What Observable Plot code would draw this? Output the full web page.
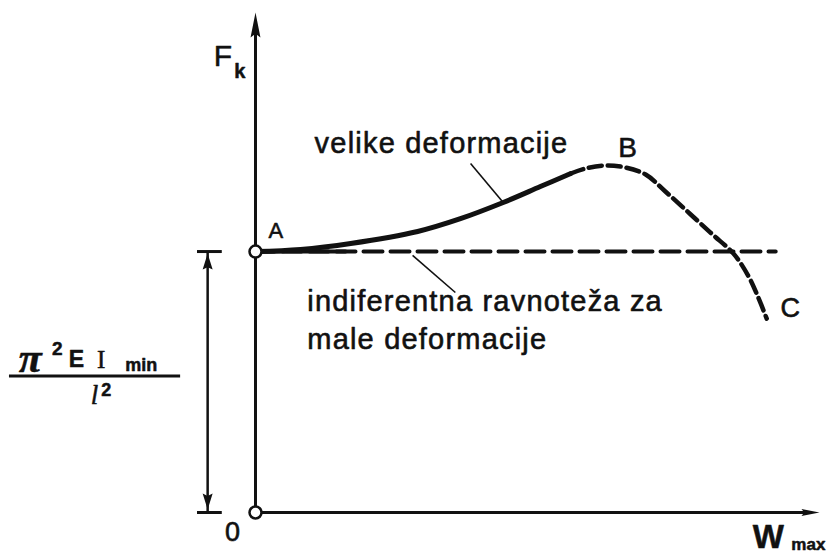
<!DOCTYPE html>
<html>
<head>
<meta charset="utf-8">
<script src="https://cdn.jsdelivr.net/npm/d3@7"></script>
<script src="https://cdn.jsdelivr.net/npm/@observablehq/plot@0.6"></script>
<style>
  html, body { margin: 0; padding: 0; background: #fff; }
  #chart svg { display: block; }
</style>
</head>
<body>
<div id="chart"></div>
<script>
// Post-buckling of a column: load Fk versus maximum deflection Wmax.
// F is measured in units of the Euler load π²EI/l², so the bifurcation point A sits at F = 1.

const eulerLoad = 1;          // A: indifferent equilibrium level
const wAxisEnd = 1;           // tip of the Wmax axis
const fAxisEnd = 1.916;       // tip of the Fk axis

// large-deflection branch A → B → C
const wLarge = [0, 0.080, 0.169, 0.288, 0.364, 0.440, 0.506, 0.560, 0.586, 0.622, 0.657, 0.693, 0.728, 0.773, 0.812, 0.849, 0.876, 0.893, 0.908];
const fLarge = [1.000, 1.008, 1.031, 1.077, 1.126, 1.188, 1.249, 1.299, 1.318, 1.330, 1.322, 1.295, 1.230, 1.142, 1.065, 0.992, 0.904, 0.824, 0.743];
const solidUntil = 0.560;     // drawn solid up to here, dashed beyond

// small-deflection (linear) solution: horizontal at the Euler load
const wSmall = [0, 0.924];
const wSmallSolid = 0.16;     // where the two branches still overlap near A

// dimension line for the Euler load, left of the Fk axis
const wDimension = -0.085;

// annotation texts
const labelText = ["A", "B", "C", "velike deformacije", "indiferentna ravnoteža za", "male deformacije", "0"];
const labelW    = [0.036, 0.661, 0.950, 0.105, 0.092, 0.092, -0.041];
const labelF    = [1.077, 1.398, 0.782, 1.414, 0.807, 0.661, -0.077];
const labelSize = [22, 28, 27, 29, 29, 29, 27];
const labelAnchor = ["middle", "middle", "middle", "start", "start", "start", "middle"];

// leader lines from the texts to the curves
const leaderW1 = [0.382, 0.279];
const leaderF1 = [1.337, 0.985];
const leaderW2 = [0.440, 0.355];
const leaderF2 = [1.188, 0.843];

// axis titles and the Euler-load formula, drawn as pieces with sub/superscripts
const mathText = ["F", "k", "W", "max", "π", "2", "E", "I", "min", "l", "2"];
const mathW    = [-0.058, -0.028, 0.911, 0.982, -0.400, -0.352, -0.318, -0.274, -0.203, -0.286, -0.265];
const mathF    = [1.747, 1.690, -0.096, -0.123, 0.590, 0.625, 0.585, 0.585, 0.565, 0.448, 0.470];
const mathSize = [30, 20, 33, 17, 42, 19, 23, 25, 18, 27, 18];
const mathWeight = ["normal", "bold", "bold", "bold", "bold", "bold", "bold", "normal", "bold", "normal", "bold"];
const mathFace   = ["sans", "sans", "sans", "sans", "serif-italic", "sans", "sans", "serif", "sans", "serif-italic", "sans"];
const fractionW = [-0.437, -0.133];
const fractionF = 0.523;

const ink = "#111";
const font = "Liberation Sans, Arial, Helvetica, sans-serif";
const serif = "Liberation Serif, DejaVu Serif, serif";

const labels = labelText.map((t, i) => ({t, w: labelW[i], f: labelF[i], s: labelSize[i], a: labelAnchor[i]}));
const maths = mathText.map((t, i) => ({t, w: mathW[i], f: mathF[i], s: mathSize[i], b: mathWeight[i], face: mathFace[i]}));
const leaders = leaderW1.map((w1, i) => ({w1, f1: leaderF1[i], w2: leaderW2[i], f2: leaderF2[i]}));

const large = wLarge.map((w, i) => ({w, f: fLarge[i]}));
const largeSolid = large.filter(d => d.w <= solidUntil);
const largeDashed = large.filter(d => d.w >= solidUntil);
const small = wSmall.map(w => ({w, f: eulerLoad}));
const smallSolid = small.map(d => ({...d, w: Math.min(d.w, wSmallSolid)}));

// filled arrowheads, pointing up before rotation
function head(lengthRatio, widthRatio) {
  return {
    draw(ctx, size) {
      const r = Math.sqrt(size / Math.PI);
      ctx.moveTo(0, -lengthRatio * r);
      ctx.lineTo(widthRatio * r, lengthRatio * r);
      ctx.lineTo(0, lengthRatio * r * 0.7);
      ctx.lineTo(-widthRatio * r, lengthRatio * r);
      ctx.closePath();
    }
  };
}
const longHead = head(2, 0.8);
const shortHead = head(1.6, 1);

const faces = {
  "sans": {fontFamily: font, fontStyle: "normal"},
  "serif": {fontFamily: serif, fontStyle: "normal"},
  "serif-italic": {fontFamily: serif, fontStyle: "italic"}
};

const textMarks = [
  ...["start", "middle"].map(anchor =>
    Plot.text(labels.filter(d => d.a === anchor), {
      x: "w", y: "f", text: "t", fontSize: d => d.s, textAnchor: anchor,
      fill: ink, stroke: ink, strokeWidth: 0.6, fontFamily: font
    })
  ),
  ...Object.keys(faces).flatMap(face => ["normal", "bold"].map(weight =>
    Plot.text(maths.filter(d => d.b === weight && d.face === face), {
      x: "w", y: "f", text: "t", fontSize: d => d.s, fontWeight: weight,
      ...faces[face],
      fill: ink, stroke: ink, strokeWidth: 0.5
    })
  ))
];

const chart = Plot.plot({
  width: 829,
  height: 554,
  margin: 0,
  x: {domain: [0, wAxisEnd], range: [255, 818], axis: null},
  y: {domain: [0, fAxisEnd], range: [512, 12], axis: null},
  marks: [
    // axes
    Plot.ruleX([0], {y1: 0, y2: fAxisEnd - 0.05, stroke: ink, strokeWidth: 3}),
    Plot.ruleY([0], {x1: 0, x2: wAxisEnd - 0.015, stroke: ink, strokeWidth: 3}),
    Plot.dot([0], {x: 0, y: fAxisEnd, dy: 12.5, r: 6.2, symbol: longHead, fill: ink, stroke: null}),
    Plot.dot([0], {x: wAxisEnd, y: 0, dx: -8, r: 4.5, symbol: longHead, rotate: 90, fill: ink, stroke: null}),

    // dimension line for the Euler load
    Plot.ruleX([wDimension], {y1: 0, y2: eulerLoad, stroke: ink, strokeWidth: 2.5}),
    Plot.ruleY([0, eulerLoad], {x1: wDimension - 0.018, x2: wDimension + 0.026, stroke: ink, strokeWidth: 3}),
    Plot.dot([0], {x: wDimension, y: eulerLoad, dy: 10, r: 5, symbol: shortHead, fill: ink, stroke: null}),
    Plot.dot([0], {x: wDimension, y: 0, dy: -11, r: 5, symbol: shortHead, rotate: 180, fill: ink, stroke: null}),
    Plot.ruleY([fractionF], {x1: fractionW[0], x2: fractionW[1], stroke: ink, strokeWidth: 3}),

    // small deflections: indifferent equilibrium
    Plot.line(small, {x: "w", y: "f", stroke: ink, strokeWidth: 4, strokeDasharray: "19,8"}),
    Plot.line(smallSolid, {x: "w", y: "f", stroke: ink, strokeWidth: 4}),

    // large deflections
    Plot.line(largeSolid, {x: "w", y: "f", curve: "catmull-rom", stroke: ink, strokeWidth: 5, strokeLinecap: "round"}),
    Plot.line(largeDashed, {x: "w", y: "f", curve: "catmull-rom", stroke: ink, strokeWidth: 4.5, strokeDasharray: "13,6"}),

    // leaders
    Plot.link(leaders, {x1: "w1", y1: "f1", x2: "w2", y2: "f2", stroke: ink, strokeWidth: 1.6}),

    // point A and origin
    Plot.dot([[0, eulerLoad], [0, 0]], {x: d => d[0], y: d => d[1], r: 6, fill: "white", stroke: ink, strokeWidth: 2.5}),

    ...textMarks
  ]
});

// the long captions are set a little wider, as in a technical drawing
d3.select(chart).selectAll("text")
  .filter(function() { return this.textContent.length > 3; })
  .attr("letter-spacing", 1.2);

document.getElementById("chart").appendChild(chart);
</script>
</body>
</html>
